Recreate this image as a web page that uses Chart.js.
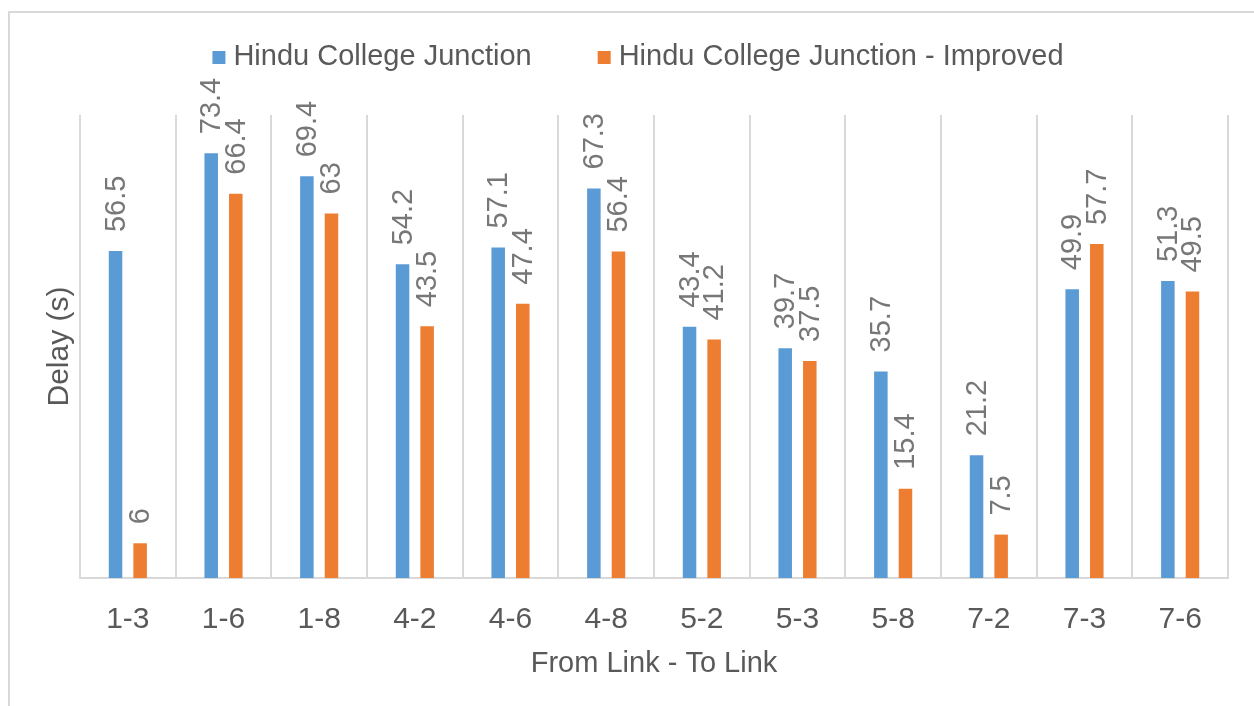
<!DOCTYPE html>
<html>
<head>
<meta charset="utf-8">
<script src="https://cdn.jsdelivr.net/npm/chart.js@4.4.1/dist/chart.umd.min.js"></script>
<style>
  html, body { margin: 0; padding: 0; background: #fff; }
  #wrap { position: relative; width: 1254px; height: 706px; }
  #marco { position: absolute; left: 8px; top: 11px; width: 1260px; height: 720px;
           border-top: 2px solid #d9d9d9; border-left: 2px solid #d9d9d9; pointer-events: none; }
</style>
</head>
<body>
<div id="wrap">
  <canvas id="miGrafica"></canvas>
  <div id="marco"></div>
</div>
<script>
const enlaces = ['1-3', '1-6', '1-8', '4-2', '4-6', '4-8', '5-2', '5-3', '5-8', '7-2', '7-3', '7-6'];
const demoraActual = [56.5, 73.4, 69.4, 54.2, 57.1, 67.3, 43.4, 39.7, 35.7, 21.2, 49.9, 51.3];
const demoraMejorada = [6, 66.4, 63, 43.5, 47.4, 56.4, 41.2, 37.5, 15.4, 7.5, 57.7, 49.5];
const nombresSeries = ['Hindu College Junction', 'Hindu College Junction - Improved'];

const grisTexto = '#595959';
const grisEtiqueta = '#777777';
const grisLinea = '#d9d9d9';
const fuente = 'Arial, "Liberation Sans", sans-serif';

// etiquetas de valor giradas encima de cada barra
const etiquetasBarras = {
    id: 'etiquetasBarras',
    afterDatasetsDraw(chart) {
        const ctx = chart.ctx;
        chart.data.datasets.forEach((ds, i) => {
            const meta = chart.getDatasetMeta(i);
            meta.data.forEach((barra, j) => {
                ctx.save();
                ctx.translate(barra.x + 1, barra.y - 19);
                ctx.rotate(-Math.PI / 2);
                ctx.font = '29px ' + fuente;
                ctx.fillStyle = grisEtiqueta;
                ctx.textAlign = 'left';
                ctx.textBaseline = 'middle';
                ctx.fillText(String(ds.data[j]), 0, 0);
                ctx.restore();
            });
        });
    }
};

// leyenda dibujada arriba, como en Excel
const leyenda = {
    id: 'leyenda',
    afterDraw(chart) {
        const ctx = chart.ctx;
        ctx.save();
        ctx.font = '29px ' + fuente;
        ctx.textBaseline = 'middle';
        const caja = 13, hueco = 8, separacion = 66;
        const anchos = chart.data.datasets.map(ds => ctx.measureText(ds.label).width);
        let total = 0;
        anchos.forEach((w, i) => { total += caja + hueco + w + (i > 0 ? separacion : 0); });
        let x = 638 - total / 2;
        const y = 57;
        chart.data.datasets.forEach((ds, i) => {
            ctx.fillStyle = ds.backgroundColor;
            ctx.fillRect(x, y - 6, caja, caja);
            ctx.fillStyle = grisTexto;
            ctx.fillText(ds.label, x + caja + hueco, y);
            x += caja + hueco + anchos[i] + separacion;
        });
        ctx.restore();
    }
};

const ctx = document.getElementById('miGrafica').getContext('2d');

new Chart(ctx, {
    type: 'bar',
    data: {
        labels: enlaces,
        datasets: [{
            label: nombresSeries[0],
            data: demoraActual,
            backgroundColor: '#5b9bd5',
            categoryPercentage: 0.514,
            barPercentage: 0.55
        }, {
            label: nombresSeries[1],
            data: demoraMejorada,
            backgroundColor: '#ed7d31',
            categoryPercentage: 0.514,
            barPercentage: 0.55
        }]
    },
    options: {
        responsive: true,
        maintainAspectRatio: false,
        animation: false,
        layout: { padding: { left: 20, right: 26, top: 115, bottom: 0 } },
        plugins: {
            legend: { display: false },
            tooltip: { enabled: false }
        },
        scales: {
            x: {
                grid: { display: true, color: grisLinea, lineWidth: 2, drawTicks: false, offset: true },
                border: { display: true, color: grisLinea, width: 2 },
                ticks: { color: grisTexto, font: { family: fuente, size: 30 }, padding: 24, maxRotation: 0 },
                title: {
                    display: true,
                    text: 'From Link - To Link',
                    color: grisTexto,
                    font: { family: fuente, size: 29 },
                    padding: { top: 0, bottom: 25 }
                },
                afterFit(scale) { scale.height = 128; }
            },
            y: {
                min: 0,
                max: 80,
                grid: { display: false },
                border: { display: false },
                ticks: { display: false },
                title: {
                    display: true,
                    text: 'Delay (s)',
                    color: grisTexto,
                    font: { family: fuente, size: 30 },
                    padding: { top: 22, bottom: 0 }
                },
                afterFit(scale) { scale.width = 60; }
            }
        }
    },
    plugins: [etiquetasBarras, leyenda]
});
</script>
</body>
</html>
